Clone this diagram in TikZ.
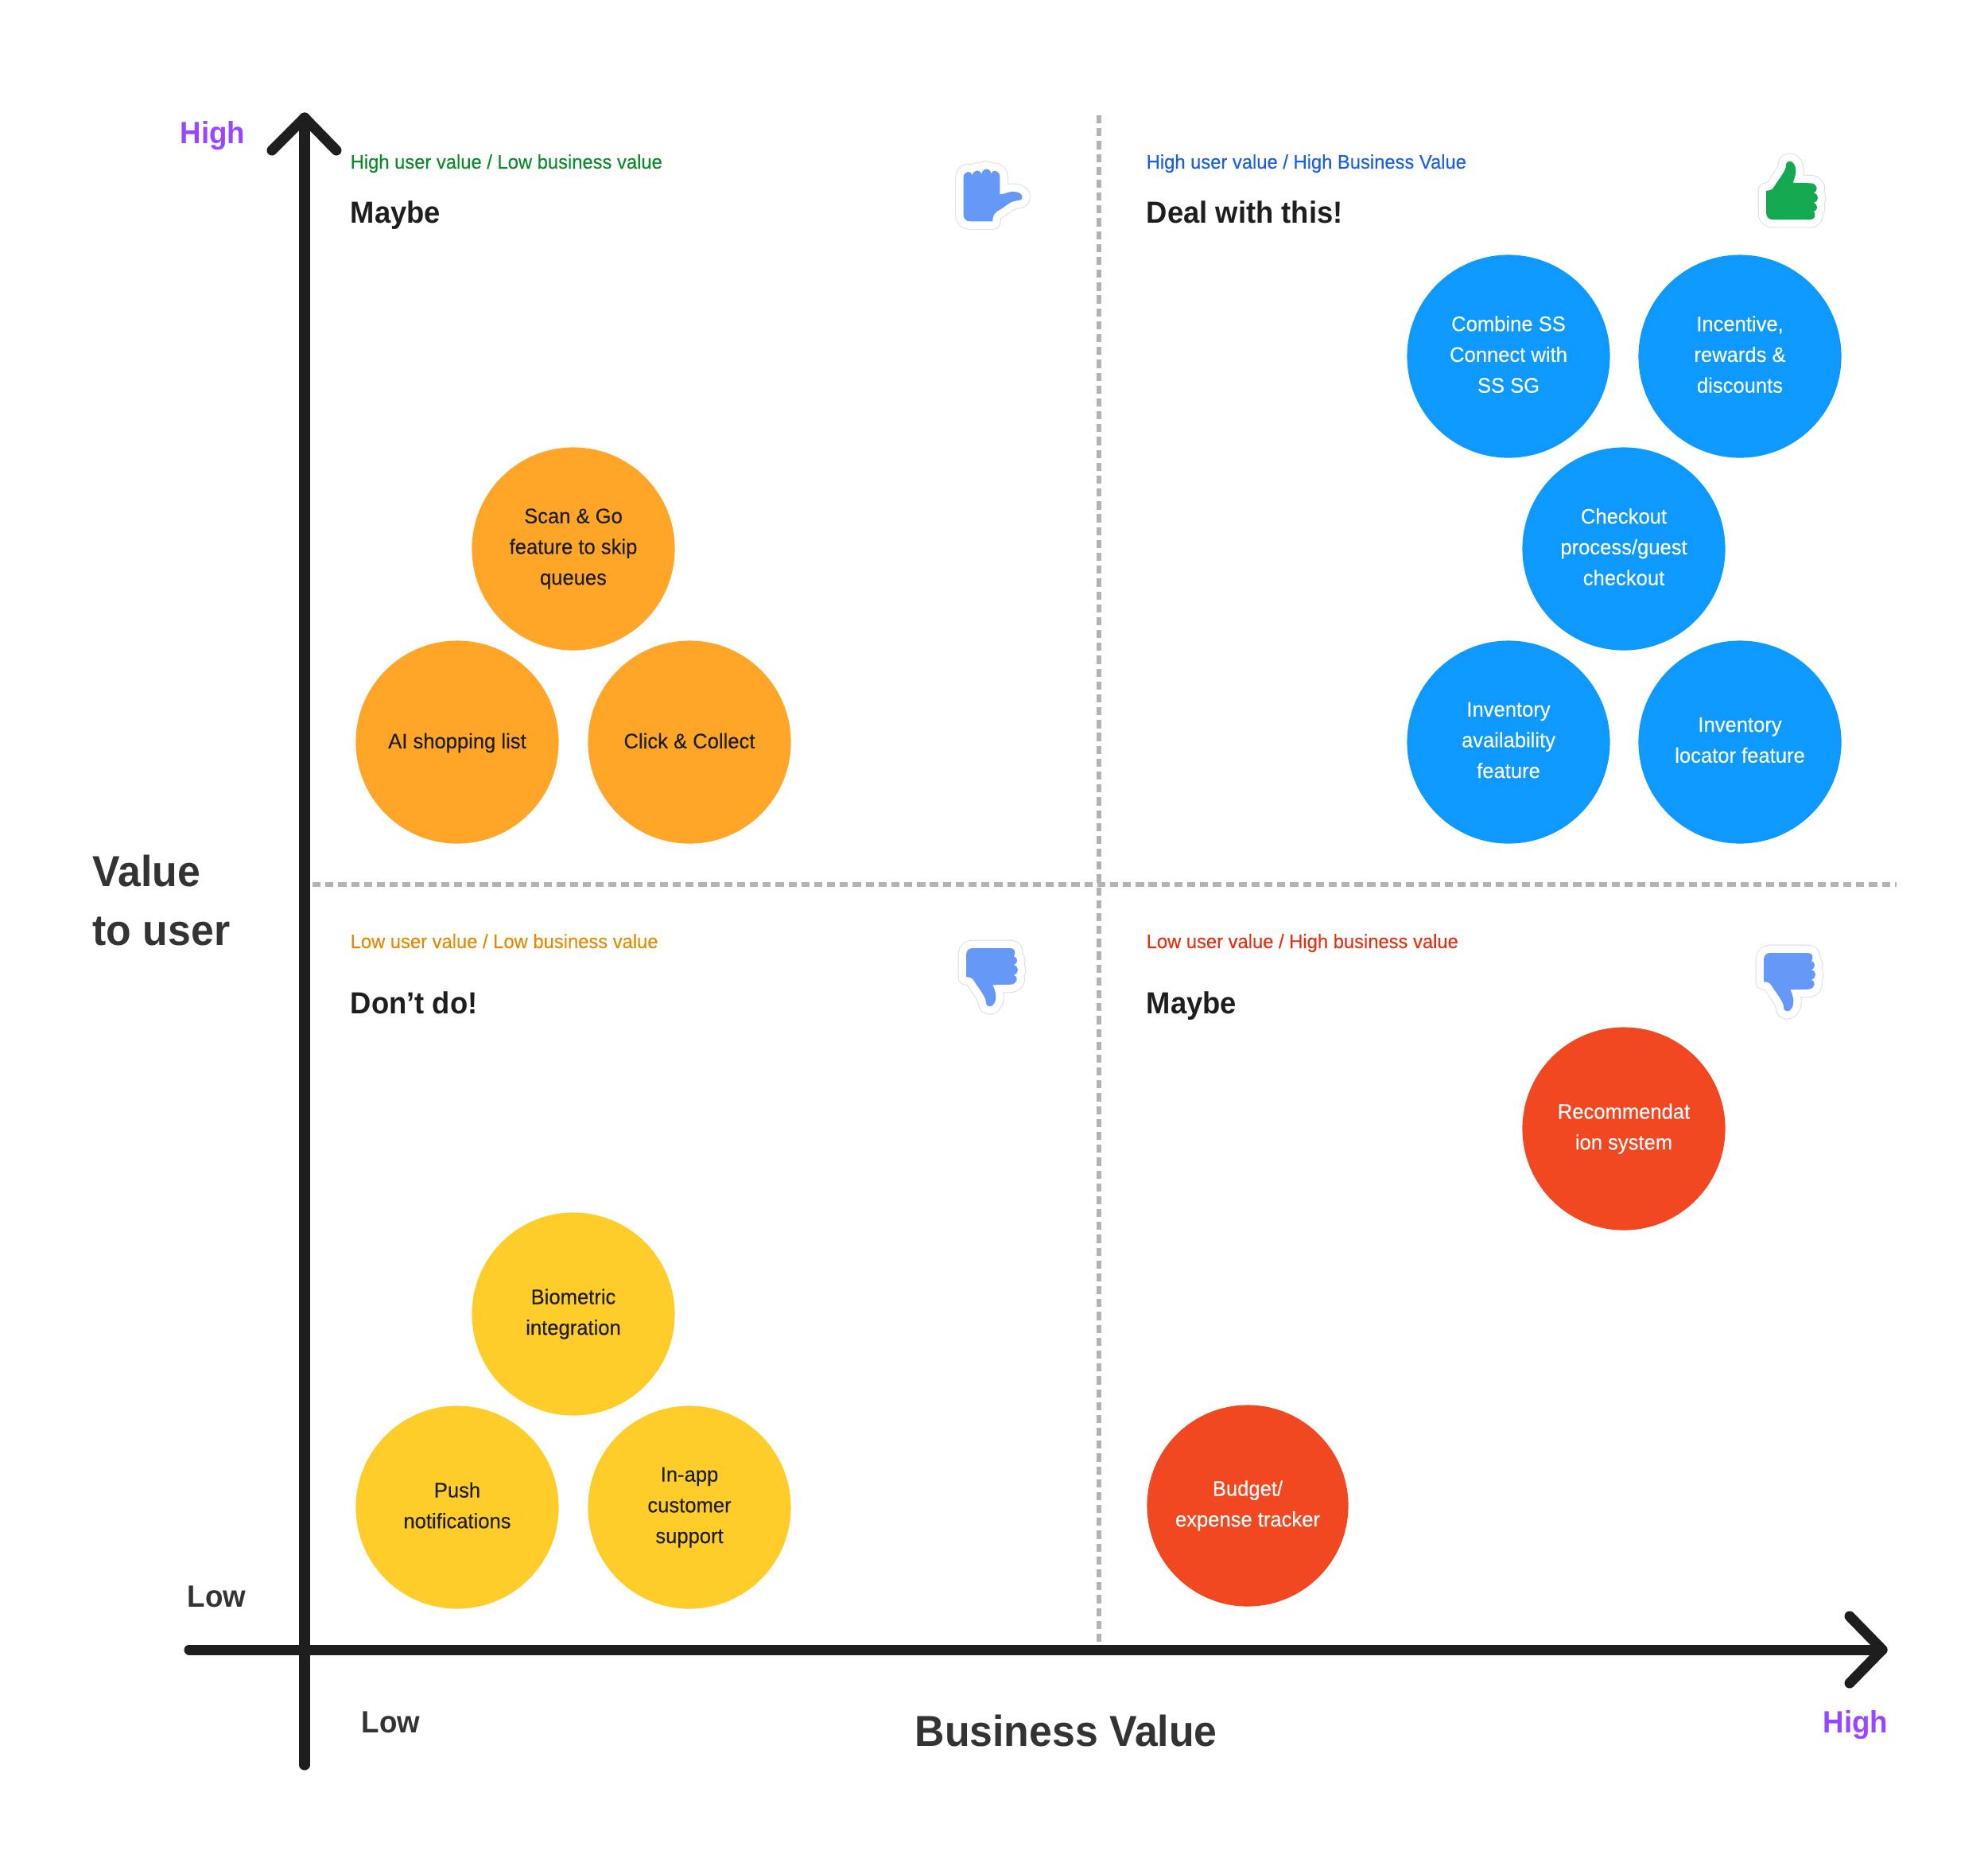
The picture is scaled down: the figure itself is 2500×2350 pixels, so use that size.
\documentclass[tikz,border=0pt]{standalone}
\usepackage{fontspec}
\setmainfont{Liberation Sans}
\newfontfamily\medfont[FakeBold=0.25,FakeStretch=0.97]{Liberation Sans}
\newfontfamily\subfont[FakeBold=0.2,FakeStretch=0.965]{Liberation Sans}
\newfontfamily\condbold[FakeStretch=0.95,UprightFont=* Bold]{Liberation Sans}
\definecolor{axiscol}{HTML}{1E1E1E}
\definecolor{textdark}{HTML}{333333}
\definecolor{labeldark}{HTML}{1E1E1E}
\definecolor{dashcol}{HTML}{B3B3B3}
\definecolor{bluefill}{HTML}{0D99FF}
\definecolor{orangefill}{HTML}{FFA629}
\definecolor{yellowfill}{HTML}{FFCD29}
\definecolor{redfill}{HTML}{F24822}
\definecolor{purpletext}{HTML}{9747FF}
\definecolor{greentext}{HTML}{0A8A2A}
\definecolor{bluetext}{HTML}{1A5FE6}
\definecolor{orangetext}{HTML}{E58A00}
\definecolor{redtext}{HTML}{E5300F}
\definecolor{thumbblue}{HTML}{6699F7}
\definecolor{thumbgreen}{HTML}{14A850}
\definecolor{stickershade}{HTML}{D9D9D9}
\newcommand{\fsz}[2]{\fontsize{#1pt}{#2pt}\selectfont}
\newcommand{\thumbshape}{%
  (105,92) .. controls (105,75) and (115,66) .. (130,66) -- (272,66)
  .. controls (288,66) and (294,82) .. (285,97)
  .. controls (300,100) and (302,122) .. (285,130)
  .. controls (305,135) and (305,160) .. (285,167)
  .. controls (302,172) and (300,200) .. (275,203) -- (205,205)
  .. controls (215,225) and (222,250) .. (212,272)
  .. controls (205,290) and (180,292) .. (180,270)
  .. controls (180,250) and (150,215) .. (135,190)
  .. controls (128,178) and (120,175) .. (105,175) -- cycle}
\newcommand{\sideshape}{%
  (125,155) .. controls (127,130) and (155,130) .. (158,148)
  .. controls (162,125) and (190,125) .. (193,145)
  .. controls (197,118) and (226,118) .. (229,142)
  .. controls (233,125) and (262,128) .. (262,155) -- (262,220)
  .. controls (280,220) and (295,208) .. (315,210)
  .. controls (352,212) and (356,240) .. (332,243)
  .. controls (300,245) and (285,265) .. (262,278)
  .. controls (245,287) and (235,295) .. (235,322) -- (150,322)
  .. controls (135,322) and (125,312) .. (125,297) -- cycle}
\tikzset{
  axisline/.style={draw=axiscol,line width=3.7pt,line cap=round,line join=round},
  quadline/.style={draw=dashcol,line width=1.45pt,dash pattern=on 2.9pt off 1.7pt},
  bubble/.style={circle,minimum size=2.55cm,inner sep=0pt,align=center,font=\medfont\fsz{7.5}{11}},
  stacked/.style={execute at begin node={\rule{0pt}{9.5pt}},execute at end node={\rule[-1.5pt]{0pt}{1.5pt}}},
  oneline/.style={execute at begin node={\rule{0pt}{7.7pt}},execute at end node={\rule[-3.3pt]{0pt}{3.3pt}}},
  bluebubble/.style={bubble,fill=bluefill,text=white},
  orangebubble/.style={bubble,fill=orangefill,text=labeldark},
  yellowbubble/.style={bubble,fill=yellowfill,text=labeldark},
  redbubble/.style={bubble,fill=redfill,text=white},
  subhead/.style={anchor=base west,inner sep=0pt,font=\subfont\fsz{7}{9}},
  quadhead/.style={anchor=base west,inner sep=0pt,text=labeldark,font=\condbold\fsz{10.9}{12}},
  axistick/.style={anchor=base west,inner sep=0pt,font=\condbold\fsz{11}{13}},
  axistitle/.style={anchor=base west,inner sep=0pt,text=textdark,font=\condbold\fsz{15.5}{21.3}},
  sticker/.style={scale=1/3,line join=round},
  stickershadow/.style={draw=stickershade,fill=stickershade,line width=5.9pt},
  stickerwhite/.style={draw=white,fill=white,line width=5.4pt},
}
\begin{document}
\begin{tikzpicture}[x=0.01cm,y=-0.01cm]
\useasboundingbox (0,0) rectangle (2500,2350);
% guide coordinates
\coordinate (vdtop) at (1382,145);
\coordinate (vdbot) at (1382,2074);
\coordinate (hdl) at (393,1112);
\coordinate (hdr) at (2385,1112);
\coordinate (yb) at (383,2219);
\coordinate (yt) at (383,148);
\coordinate (yl) at (342,189);
\coordinate (yr) at (423,189);
\coordinate (xl) at (238,2074);
\coordinate (xt) at (2367,2074);
\coordinate (xu) at (2326,2032);
\coordinate (xd) at (2326,2116);
% dashed quadrant lines
\draw[quadline] (vdtop) -- (vdbot);
\draw[quadline] (hdl) -- (hdr);
% axes
\draw[axisline] (yb) -- (yt);
\draw[axisline] (yl) -- (yt) -- (yr);
\draw[axisline] (xl) -- (xt);
\draw[axisline] (xu) -- (xt) -- (xd);
% axis texts
\node[axistick,text=purpletext] (hiy) at (226,180) {High};
\node[axistick,text=textdark] (loy) at (235,2020) {Low};
\node[axistick,text=textdark] (lox) at (454,2178) {Low};
\node[axistick,text=purpletext] (hix) at (2292,2178) {High};
\node[axistitle] (bv) at (1150,2195) {Business Value};
\node[axistitle] (vu1) at (116,1114) {Value};
\node[axistitle] (vu2) at (116,1188) {to user};
% quadrant texts
\node[subhead,text=greentext] (s1) at (440,212) {High user value / Low business value};
\node[subhead,text=bluetext] (s2) at (1441,212) {High user value / High Business Value};
\node[subhead,text=orangetext] (s3) at (440,1192) {Low user value / Low business value};
\node[subhead,text=redtext] (s4) at (1441,1192) {Low user value / High business value};
\node[quadhead] (h1) at (440,280) {Maybe};
\node[quadhead] (h2) at (1441,280) {Deal with this!};
\node[quadhead] (h3) at (440,1274) {Don’t do!};
\node[quadhead] (h4) at (1441,1274) {Maybe};
% bubbles
\node[bluebubble,stacked] (b1) at (1897,448) {Combine SS\\Connect with\\SS SG};
\node[bluebubble,stacked] (b2) at (2188,448) {Incentive,\\rewards \&\\discounts};
\node[bluebubble,stacked] (b3) at (2042,690) {Checkout\\process/guest\\checkout};
\node[bluebubble,stacked] (b4) at (1897,933) {Inventory\\availability\\feature};
\node[bluebubble,stacked] (b5) at (2188,933) {Inventory\\locator feature};
\node[orangebubble,stacked] (o1) at (721,690) {Scan \& Go\\feature to skip\\queues};
\node[orangebubble,oneline] (o2) at (575,933) {AI shopping list};
\node[orangebubble,oneline] (o3) at (867,933) {Click \& Collect};
\node[yellowbubble,stacked] (y1) at (721,1652) {Biometric\\integration};
\node[yellowbubble,stacked] (y2) at (575,1895) {Push\\notifications};
\node[yellowbubble,stacked] (y3) at (867,1895) {In-app\\customer\\support};
\node[redbubble,stacked] (r1) at (2042,1419) {Recommendat\\ion system};
\node[redbubble,stacked,minimum size=2.53cm] (r2) at (1569,1893) {Budget/\\expense tracker};
% thumb icons
\begin{scope}[shift={(1170,171)},sticker]
  \path[stickershadow] \sideshape;
  \path[stickerwhite] \sideshape;
  \fill[thumbblue] \sideshape;
\end{scope}
\begin{scope}[shift={(2186,298)},sticker,yscale=-1]
  \path[stickershadow] \thumbshape;
  \path[stickerwhite] \thumbshape;
  \fill[thumbgreen] \thumbshape;
\end{scope}
\begin{scope}[shift={(1180,1170)},sticker]
  \path[stickershadow] \thumbshape;
  \path[stickerwhite] \thumbshape;
  \fill[thumbblue] \thumbshape;
\end{scope}
\begin{scope}[shift={(2183,1176)},sticker]
  \path[stickershadow] \thumbshape;
  \path[stickerwhite] \thumbshape;
  \fill[thumbblue] \thumbshape;
\end{scope}
\end{tikzpicture}
\end{document}
